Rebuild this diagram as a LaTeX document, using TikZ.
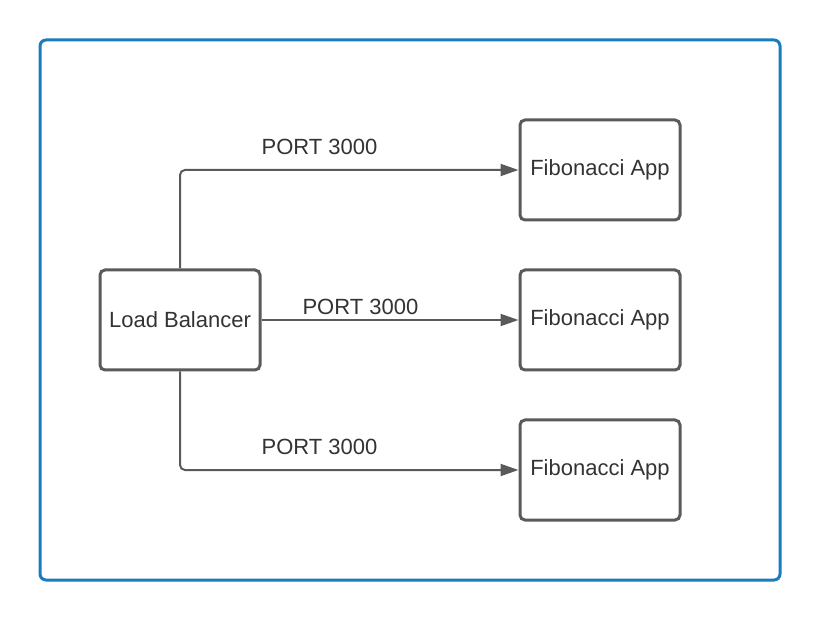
\documentclass[tikz,border=0pt]{standalone}
\usepackage{fontspec}
\setmainfont{Liberation Sans}
\usetikzlibrary{arrows.meta}
\definecolor{edgegray}{HTML}{5A5A5A}
\definecolor{textgray}{HTML}{333333}
\definecolor{frameblue}{HTML}{1B7BBF}

\begin{document}
\begin{tikzpicture}[x=0.5pt, y=-0.5pt, font=\fontsize{11}{13}\selectfont, text=textgray,
  box/.style={draw=edgegray, line width=1.5pt, rounded corners=2.5pt,
    minimum width=80pt, minimum height=50pt, inner sep=0pt},
  link/.style={draw=edgegray, line width=1pt, rounded corners=2.5pt,
    -{Triangle[length=9pt, width=6pt]}},
  port/.style={above, inner sep=2pt}]
\useasboundingbox (0,0) rectangle (820,620);
\draw[frameblue, line width=1.5pt, rounded corners=3pt] (40,40) rectangle (780,580);
\node[box] (lb) at (180, 320) {Load Balancer};
\node[box] (fib1) at (600, 170) {Fibonacci App};
\node[box] (fib2) at (600, 320) {Fibonacci App};
\node[box] (fib3) at (600, 470) {Fibonacci App};
\draw[link] (lb.north) |- node[pos=0.706, port, yshift=5pt]{PORT 3000} (fib1.west);
\draw[link] (lb.east) -- node[pos=0.385, port]{PORT 3000} (fib2.west);
\draw[link] (lb.south) |- node[pos=0.706, port, yshift=5pt]{PORT 3000} (fib3.west);
\end{tikzpicture}
\end{document}
